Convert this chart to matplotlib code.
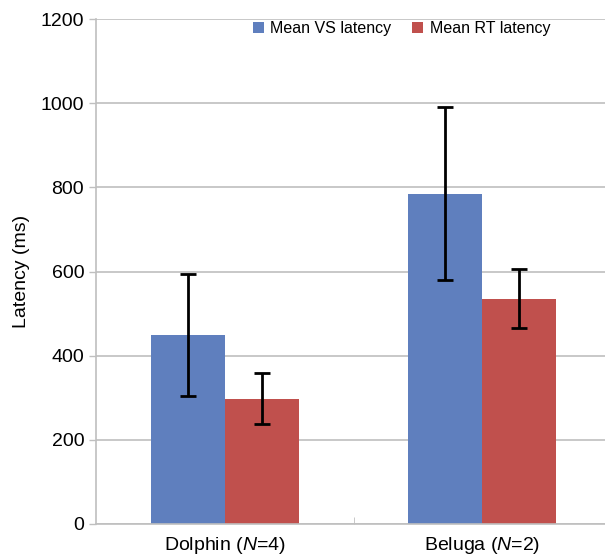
import numpy as np
import matplotlib
matplotlib.use('Agg')
import matplotlib.pyplot as plt

plt.rcParams['font.family'] = ['Liberation Sans', 'DejaVu Sans']
plt.rcParams['mathtext.fontset'] = 'custom'
plt.rcParams['mathtext.it'] = 'Liberation Sans:italic'
plt.rcParams['mathtext.rm'] = 'Liberation Sans'

categories = ['Dolphin ($\\mathit{N}$=4)', 'Beluga ($\\mathit{N}$=2)']
vs_mean = [450, 785]
vs_err = [145, 205]
rt_mean = [298, 535]
rt_err = [60, 70]

blue = '#5F7FBE'
red = '#C0504D'
grid_col = '#BFBFBF'

fig = plt.figure(figsize=(6.05, 5.58), dpi=100)
ax = fig.add_axes([96 / 605, 34 / 558, 515 / 605, 505 / 558])

x = np.arange(len(categories))
w = 0.287
ax.bar(x - w / 2, vs_mean, w, color=blue, label='Mean VS latency', zorder=2)
ax.bar(x + w / 2, rt_mean, w, color=red, label='Mean RT latency', zorder=2)
ax.errorbar(x - w / 2, vs_mean, yerr=vs_err, fmt='none', ecolor='black',
            elinewidth=2, capsize=6, capthick=2, zorder=3)
ax.errorbar(x + w / 2, rt_mean, yerr=rt_err, fmt='none', ecolor='black',
            elinewidth=2, capsize=6, capthick=2, zorder=3)

ax.set_xlim(-0.5, 1.5)
ax.set_ylim(0, 1200)
ax.set_yticks(range(0, 1201, 200))
ax.set_xticks(x)
ax.set_xticklabels(categories, fontsize=14)
ax.set_xticks([0.5], minor=True)
ax.tick_params(axis='x', which='major', length=0, pad=8)
ax.tick_params(axis='x', which='minor', length=5, color=grid_col, direction='in')
ax.tick_params(axis='y', labelsize=14, length=5, color=grid_col, width=1)
ax.yaxis.grid(True, color=grid_col, linewidth=1.2, zorder=0)
ax.set_axisbelow(True)

for s in ['top', 'right']:
    ax.spines[s].set_visible(False)
for s in ['left', 'bottom']:
    ax.spines[s].set_color(grid_col)
    ax.spines[s].set_linewidth(1.2)

ax.set_ylabel('Latency (ms)', fontsize=14, labelpad=8)

ax.legend(loc='upper left', bbox_to_anchor=(0.276, 1.025), ncol=2, frameon=False,
          fontsize=11.5, handlelength=0.7, handleheight=0.7, handletextpad=0.4,
          columnspacing=1.3)

fig.savefig('out.png', dpi=100)
